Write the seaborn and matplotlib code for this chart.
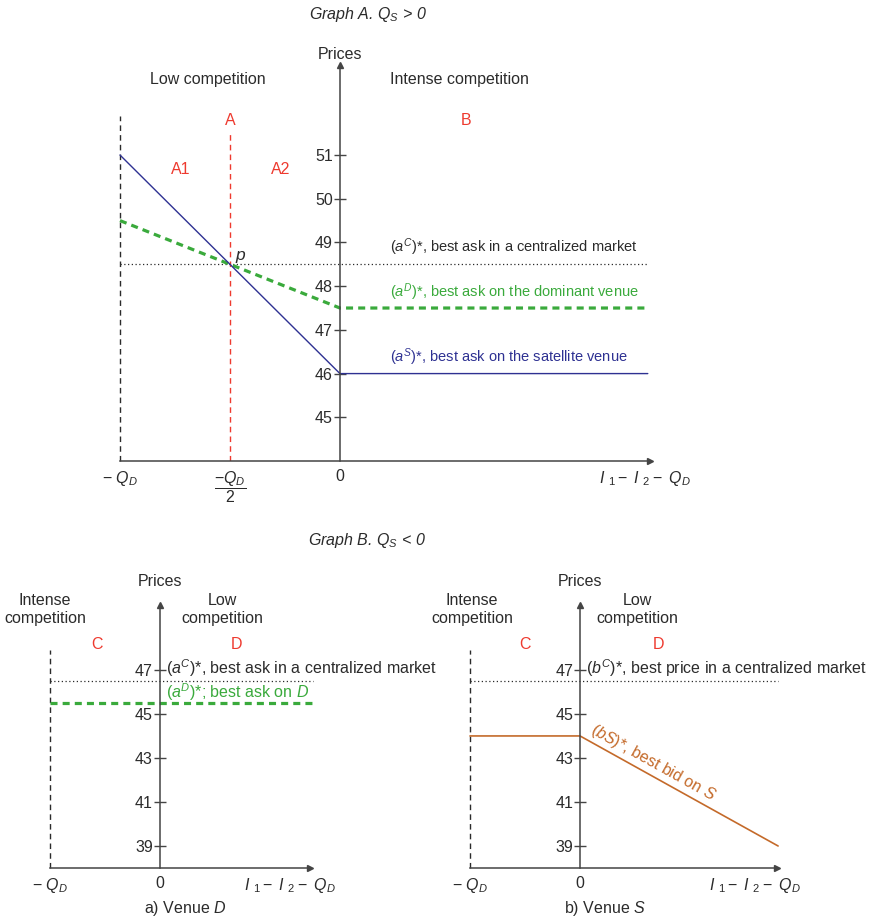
import matplotlib
matplotlib.use("Agg")
import matplotlib.pyplot as plt
import seaborn as sns

# ---- data ----
# Graph A, Q_S > 0   (x in units where Q_D = 2)
top_x = [-2, 0, 2.8]
top_aS = [51, 46, 46]          # best ask on satellite venue
top_aD = [49.5, 47.5, 47.5]    # best ask on dominant venue
top_aC = [48.5, 48.5]          # centralized market
top_aC_x = [-2, 2.8]
top_yticks = [45, 46, 47, 48, 49, 50, 51]
top_xticks = [-2, -1, 0, 2.77]
XLAB_END = r"$I\ _1 -\ I\ _2 -\ Q_D$"
top_xlabels = [r"$-\ Q_D$", r"$\dfrac{-Q_D}{2}$", "0", XLAB_END]

# Graph B, Q_S < 0
botL_line_x = [-2, 2.78]
botL_aC = [46.5, 46.5]
botL_aD = [45.5, 45.5]
botR_line_x = [-2, 3.6]
botR_bC = [46.5, 46.5]
botR_bS_x = [-2, 0, 3.6]
botR_bS = [44, 44, 39]
bot_yticks = [39, 41, 43, 45, 47]

RED = "#ee3a2f"
GREEN = "#3aaa3c"
NAVY = "#2e3192"
ORANGE = "#c46a2a"
INK = "#2b2b2b"
AXC = "#444444"

sns.set_style("white")
plt.rcParams['font.family'] = ['Liberation Sans', 'DejaVu Sans']
plt.rcParams['mathtext.fontset'] = 'custom'
plt.rcParams['mathtext.rm'] = 'Liberation Sans'
plt.rcParams['mathtext.it'] = 'Liberation Sans:italic'
plt.rcParams['mathtext.bf'] = 'Liberation Sans:bold'
FS = 11.5      # headings, ticks, bottom labels
FS_A = 10.5    # curve labels in graph A

W, H = 873, 917
fig = plt.figure(figsize=(W / 100, H / 100), dpi=100)


def make_axes(px_left, px_right, px_bottom, px_top, xlim, ylim):
    ax = fig.add_axes([px_left / W, (H - px_bottom) / H,
                       (px_right - px_left) / W, (px_bottom - px_top) / H])
    ax.set_xlim(*xlim)
    ax.set_ylim(*ylim)
    for s in ['top', 'right']:
        ax.spines[s].set_visible(False)
    ax.spines['left'].set_position(('data', 0))
    for s in ['left', 'bottom']:
        ax.spines[s].set_color(AXC)
        ax.spines[s].set_linewidth(1.1)
    ax.patch.set_alpha(0)
    ax.plot(1, ylim[0], ">", color=AXC, ms=5, transform=ax.get_yaxis_transform(), clip_on=False)
    ax.plot(0, 1, "^", color=AXC, ms=5, transform=ax.get_xaxis_transform(), clip_on=False)
    ax.tick_params(axis='y', left=True, direction='inout', length=8, width=1, color=AXC,
                   labelcolor=INK, labelsize=FS, pad=1)
    ax.tick_params(axis='x', bottom=False, length=0, labelcolor=INK, labelsize=FS, pad=6)
    return ax


def line(ax, xs, ys, **kw):
    sns.lineplot(x=xs, y=ys, ax=ax, estimator=None, sort=False, clip_on=False, **kw)


# ================= Graph A =================
ax = make_axes(120, 650, 461, 65, (-2, 2.82), (44, 53.06))
ax.vlines(-2, 44, 51.9, color=INK, lw=1, linestyles=(0, (4, 3)), clip_on=False)
ax.vlines(-1, 44, 51.55, color=RED, lw=1, linestyles=(0, (4, 3)))
line(ax, top_aC_x, top_aC, color=INK, lw=0.9, linestyle=(0, (1, 2)))
line(ax, top_x, top_aD, color=GREEN, lw=2.3, linestyle=(0, (2.2, 1.6)))
line(ax, top_x, top_aS, color=NAVY, lw=1.0)
ax.set_yticks(top_yticks)
ax.set_xticks(top_xticks)
ax.set_xticklabels(top_xlabels)

ax.text(0, 53.29, "Prices", ha='center', va='center', fontsize=FS, color=INK)
ax.text(-1.2, 52.72, "Low competition", ha='center', va='center', fontsize=FS, color=INK)
ax.text(1.09, 52.72, "Intense competition", ha='center', va='center', fontsize=FS, color=INK)
ax.text(-1, 51.8, "A", ha='center', va='center', fontsize=FS, color=RED)
ax.text(1.15, 51.8, "B", ha='center', va='center', fontsize=FS, color=RED)
ax.text(-1.45, 50.66, "A1", ha='center', va='center', fontsize=FS, color=RED)
ax.text(-0.54, 50.66, "A2", ha='center', va='center', fontsize=FS, color=RED)
ax.text(-0.91, 48.7, "p", ha='center', va='center', fontsize=FS + 1, style='italic', color=INK)
ax.text(0.455, 48.9, r"($a^{C}$)*, best ask in a centralized market", ha='left', va='center',
        fontsize=FS_A, color=INK)
ax.text(0.455, 47.87, r"($a^{D}$)*, best ask on the dominant venue", ha='left', va='center',
        fontsize=FS_A, color=GREEN)
ax.text(0.455, 46.38, r"($a^{S}$)*, best ask on the satellite venue", ha='left', va='center',
        fontsize=FS_A, color=NAVY)
fig.text(368 / W, 1 - 15 / H, r"Graph A. $Q_S$ > 0", ha='center', va='center', fontsize=FS,
         style='italic', color=INK)

# ================= Graph B, panel a =================
ax = make_axes(50, 310, 868, 605, (-2, 2.73), (38, 49.95))
ax.vlines(-2, 38, 47.9, color=INK, lw=1, linestyles=(0, (4, 3)), clip_on=False)
line(ax, botL_line_x, botL_aC, color=INK, lw=0.9, linestyle=(0, (1, 2)))
line(ax, botL_line_x, botL_aD, color=GREEN, lw=2.3, linestyle=(0, (2.2, 1.6)))
ax.set_yticks(bot_yticks)
ax.set_xticks([-2, 0, 2.36])
ax.set_xticklabels([r"$-\ Q_D$", "0", XLAB_END])
ax.text(0, 51.0, "Prices", ha='center', va='center', fontsize=FS, color=INK)
ax.text(-2.09, 49.73, "Intense\ncompetition", ha='center', va='center', fontsize=FS, color=INK,
        linespacing=1.25)
ax.text(1.13, 49.73, "Low\ncompetition", ha='center', va='center', fontsize=FS, color=INK,
        linespacing=1.25)
ax.text(-1.15, 48.14, "C", ha='center', va='center', fontsize=FS, color=RED)
ax.text(1.4, 48.14, "D", ha='center', va='center', fontsize=FS, color=RED)
ax.text(0.11, 47.09, r"($a^{C}$)*, best ask in a centralized market", ha='left', va='center',
        fontsize=FS, color=INK)
ax.text(0.11, 46.0, r"($a^{D}$)*; best ask on $D$", ha='left', va='center',
        fontsize=FS, color=GREEN)
fig.text(185 / W, 1 - 908 / H, r"a) Venue $D$", ha='center', va='center', fontsize=FS, color=INK)

# ================= Graph B, panel b =================
ax = make_axes(470, 777, 868, 605, (-2, 3.58), (38, 49.95))
ax.vlines(-2, 38, 47.9, color=INK, lw=1, linestyles=(0, (4, 3)), clip_on=False)
line(ax, botR_line_x, botR_bC, color=INK, lw=0.9, linestyle=(0, (1, 2)))
line(ax, botR_bS_x, botR_bS, color=ORANGE, lw=1.2)
ax.set_yticks(bot_yticks)
ax.set_xticks([-2, 0, 3.18])
ax.set_xticklabels([r"$-\ Q_D$", "0", XLAB_END])
ax.text(0, 51.0, "Prices", ha='center', va='center', fontsize=FS, color=INK)
ax.text(-1.96, 49.73, "Intense\ncompetition", ha='center', va='center', fontsize=FS, color=INK,
        linespacing=1.25)
ax.text(1.04, 49.73, "Low\ncompetition", ha='center', va='center', fontsize=FS, color=INK,
        linespacing=1.25)
ax.text(-1.0, 48.14, "C", ha='center', va='center', fontsize=FS, color=RED)
ax.text(1.42, 48.14, "D", ha='center', va='center', fontsize=FS, color=RED)
ax.text(0.11, 47.09, r"($b^{C}$)*, best price in a centralized market", ha='left', va='center',
        fontsize=FS, color=INK)
ax.text(1.33, 42.77, r"($b$$S$)*, best bid on $S$", ha='center', va='center', rotation=-29,
        rotation_mode='anchor', fontsize=FS, color=ORANGE)
fig.text(605 / W, 1 - 908 / H, r"b) Venue $S$", ha='center', va='center', fontsize=FS, color=INK)

fig.text(367 / W, 1 - 541 / H, r"Graph B. $Q_S$ < 0", ha='center', va='center', fontsize=FS,
         style='italic', color=INK)

fig.savefig("out.png", dpi=100)
